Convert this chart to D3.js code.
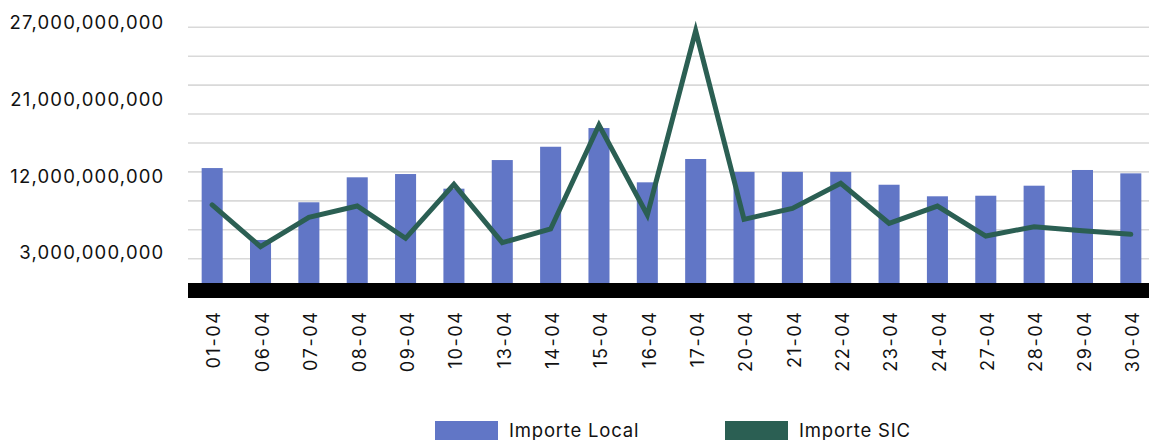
<!DOCTYPE html>
<html>
<head>
<meta charset="utf-8">
<script src="https://cdn.jsdelivr.net/npm/d3@7"></script>
<style>
  html, body { margin: 0; padding: 0; background: #ffffff; }
  svg { display: block; }
  text { font-family: Inter, "Noto Sans", sans-serif; fill: #111111; }
</style>
</head>
<body>
<svg id="chart" width="1149" height="440"></svg>
<script>
// Daily amounts for April
const dates = ["01-04","06-04","07-04","08-04","09-04","10-04","13-04","14-04","15-04","16-04",
               "17-04","20-04","21-04","22-04","23-04","24-04","27-04","28-04","29-04","30-04"];
const importeLocal = [12.4e9, 4.94e9, 8.85e9, 11.44e9, 11.78e9, 10.26e9, 13.23e9, 14.61e9, 16.55e9, 10.92e9,
                      13.34e9, 12.0e9, 12.0e9, 12.0e9, 10.67e9, 9.47e9, 9.53e9, 10.57e9, 12.2e9, 11.85e9];
const importeSIC = [8.57e9, 4.24e9, 7.29e9, 8.46e9, 5.11e9, 10.71e9, 4.66e9, 6.08e9, 16.86e9, 7.53e9,
                    26.64e9, 7.08e9, 8.22e9, 10.82e9, 6.67e9, 8.46e9, 5.35e9, 6.32e9, 5.90e9, 5.53e9];
const yLabels = ["27,000,000,000", "21,000,000,000", "12,000,000,000", "3,000,000,000"];
const gridValues = [3e9, 6e9, 9e9, 12e9, 15e9, 18e9, 21e9, 24e9, 27e9];
const seriesNames = ["Importe Local", "Importe SIC"];

const colBar = "#6176c6";
const colLine = "#2b5f53";

const svg = d3.select("#chart");
const left = 188, right = 1149;

const x = d3.scaleBand().domain(dates).range([188, 1155]).paddingInner(0.565).paddingOuter(0.2825);
const y = d3.scaleLinear().domain([0, 27e9]).range([287.6, 27.3]);

// horizontal gridlines
svg.append("g").selectAll("line").data(gridValues).join("line")
  .attr("x1", left).attr("x2", right)
  .attr("y1", d => y(d)).attr("y2", d => y(d))
  .attr("stroke", "#d9d9d9").attr("stroke-width", 1.6);

// value labels on the left, spread evenly down the axis
const labelPos = d3.scalePoint().domain(yLabels).range([23, 253]);
svg.append("g").selectAll("text").data(yLabels).join("text")
  .attr("x", 164.5).attr("y", d => labelPos(d)).attr("dy", "0.35em")
  .attr("text-anchor", "end").attr("font-size", 18.5)
  .attr("letter-spacing", 1.2)
  .text(d => d);

// bars
svg.append("g").selectAll("rect").data(dates).join("rect")
  .attr("x", d => x(d)).attr("width", x.bandwidth())
  .attr("y", (d, i) => y(importeLocal[i]))
  .attr("height", (d, i) => y(0) - y(importeLocal[i]))
  .attr("fill", colBar);

// baseline
svg.append("line")
  .attr("x1", left).attr("x2", right)
  .attr("y1", y(0) + 2.9).attr("y2", y(0) + 2.9)
  .attr("stroke", "#000").attr("stroke-width", 15);

// line series
const line = d3.line()
  .x((d, i) => x(dates[i]) + x.bandwidth() / 2)
  .y(d => y(d));
svg.append("path").datum(importeSIC)
  .attr("d", line)
  .attr("fill", "none").attr("stroke", colLine)
  .attr("stroke-width", 5).attr("stroke-linejoin", "miter").attr("stroke-linecap", "round");

// category labels, rotated
svg.append("g").selectAll("text").data(dates).join("text")
  .attr("transform", d => `translate(${x(d) + x.bandwidth() / 2 + 2},310.5) rotate(-90)`)
  .attr("text-anchor", "end").attr("dy", "0.35em").attr("font-size", 18)
  .attr("letter-spacing", 1.6)
  .text(d => d);

// legend
const legend = svg.append("g");
const legendX = [435, 725];
const legendColors = [colBar, colLine];
seriesNames.forEach((name, i) => {
  legend.append("rect").attr("x", legendX[i]).attr("y", 421).attr("width", 63).attr("height", 19)
    .attr("fill", legendColors[i]);
  legend.append("text").attr("x", legendX[i] + 74).attr("y", 431).attr("dy", "0.35em")
    .attr("font-size", 18.5).attr("letter-spacing", 0.8).text(name);
});
</script>
</body>
</html>
